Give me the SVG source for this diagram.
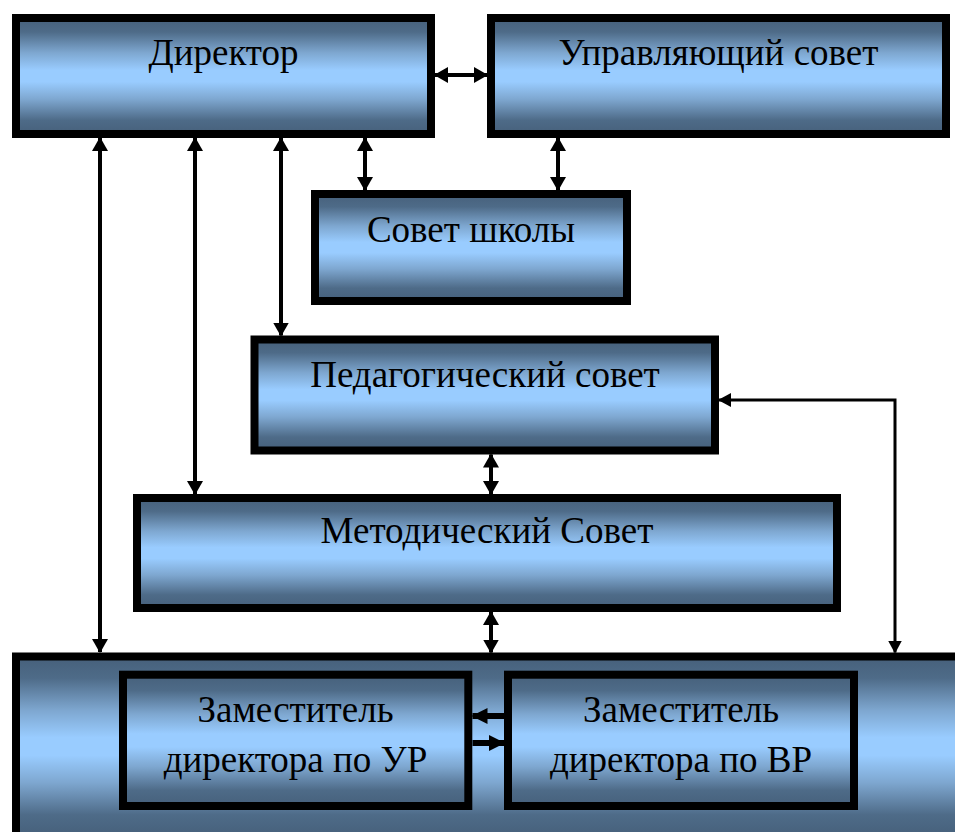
<svg xmlns="http://www.w3.org/2000/svg" width="955" height="832" viewBox="0 0 955 832">
  <defs>
    <linearGradient id="boxGrad" x1="0" y1="0" x2="0" y2="1">
      <stop offset="0" stop-color="#46607b"/>
      <stop offset="0.12" stop-color="#4e6b88"/>
      <stop offset="0.3" stop-color="#7ea7d0"/>
      <stop offset="0.45" stop-color="#99ccff"/>
      <stop offset="0.55" stop-color="#99ccff"/>
      <stop offset="0.7" stop-color="#7ea7d0"/>
      <stop offset="0.88" stop-color="#4e6b88"/>
      <stop offset="1" stop-color="#46607b"/>
    </linearGradient>
    <marker id="ah" viewBox="0 0 14 16" refX="13" refY="8" markerWidth="14" markerHeight="16" markerUnits="userSpaceOnUse" orient="auto-start-reverse">
      <path d="M0,0 L14,8 L0,16 z" fill="#000"/>
    </marker>
    <marker id="ahs" viewBox="0 0 13 14" refX="12" refY="7" markerWidth="13" markerHeight="14" markerUnits="userSpaceOnUse" orient="auto-start-reverse">
      <path d="M0,0 L13,7 L0,14 z" fill="#000"/>
    </marker>
    <marker id="ahb" viewBox="0 0 16 16" refX="15" refY="8" markerWidth="16" markerHeight="16" markerUnits="userSpaceOnUse" orient="auto">
      <path d="M0,0 L16,8 L0,16 z" fill="#000"/>
    </marker>
  </defs>
  <style>
    .box { fill: url(#boxGrad); stroke: #000; stroke-width: 8; }
    .lbl { font-family: "Liberation Serif", "Times New Roman", serif; font-size: 37px; fill: #000; text-anchor: middle; }
    .c { stroke: #000; fill: none; stroke-width: 4; }
    .c2 { stroke: #000; fill: none; stroke-width: 4; marker-start: url(#ah); marker-end: url(#ah); }
    .c3 { stroke: #000; fill: none; stroke-width: 3; marker-start: url(#ahs); marker-end: url(#ahs); }
    .c4 { stroke: #000; fill: none; stroke-width: 6; marker-end: url(#ahb); }
  </style>
  <rect width="955" height="832" fill="#fff"/>

  <g id="director">
    <rect class="box" x="16" y="18" width="415" height="116"/>
    <text class="lbl" x="223.5" y="65">Директор</text>
  </g>
  <g id="governing-council">
    <rect class="box" x="491" y="18" width="455" height="116"/>
    <text class="lbl" x="718.5" y="65">Управляющий совет</text>
  </g>
  <g id="school-council">
    <rect class="box" x="315" y="194" width="312" height="107"/>
    <text class="lbl" x="471" y="241.5">Совет школы</text>
  </g>
  <g id="pedagogical-council">
    <rect class="box" x="254.5" y="339.5" width="460.5" height="111"/>
    <text class="lbl" x="485" y="386.5">Педагогический совет</text>
  </g>
  <g id="methodical-council">
    <rect class="box" x="137" y="498" width="700" height="110"/>
    <text class="lbl" x="487" y="543">Методический Совет</text>
  </g>
  <g id="deputies">
    <rect class="box" x="16" y="656.5" width="980" height="180"/>
  </g>
  <g id="deputy-ur">
    <rect class="box" x="123" y="674.7" width="345.3" height="131.3"/>
    <text class="lbl" x="295.5" y="721.5">Заместитель</text>
    <text class="lbl" x="295.5" y="771.5">директора по УР</text>
  </g>
  <g id="deputy-vr">
    <rect class="box" x="508" y="674.7" width="346" height="131.3"/>
    <text class="lbl" x="681" y="721.5">Заместитель</text>
    <text class="lbl" x="681" y="771.5">директора по ВР</text>
  </g>

  <g id="connectors">
    <line class="c2" x1="435" y1="75" x2="487" y2="75"/>
    <line class="c2" x1="100" y1="138" x2="100" y2="652"/>
    <line class="c2" x1="195" y1="138" x2="195" y2="494"/>
    <line class="c2" x1="281" y1="138" x2="281" y2="335.5"/>
    <line class="c2" x1="365" y1="138" x2="365" y2="190"/>
    <line class="c2" x1="558" y1="138" x2="558" y2="190"/>
    <line class="c2" x1="491" y1="454.5" x2="491" y2="494"/>
    <line class="c2" x1="491" y1="612" x2="491" y2="652.5"/>
    <polyline class="c3" points="719,400 895,400 895,652.5"/>
    <line class="c4" x1="504" y1="716" x2="472.5" y2="716"/>
    <line class="c4" x1="472.5" y1="743" x2="504" y2="743"/>
  </g>
</svg>
